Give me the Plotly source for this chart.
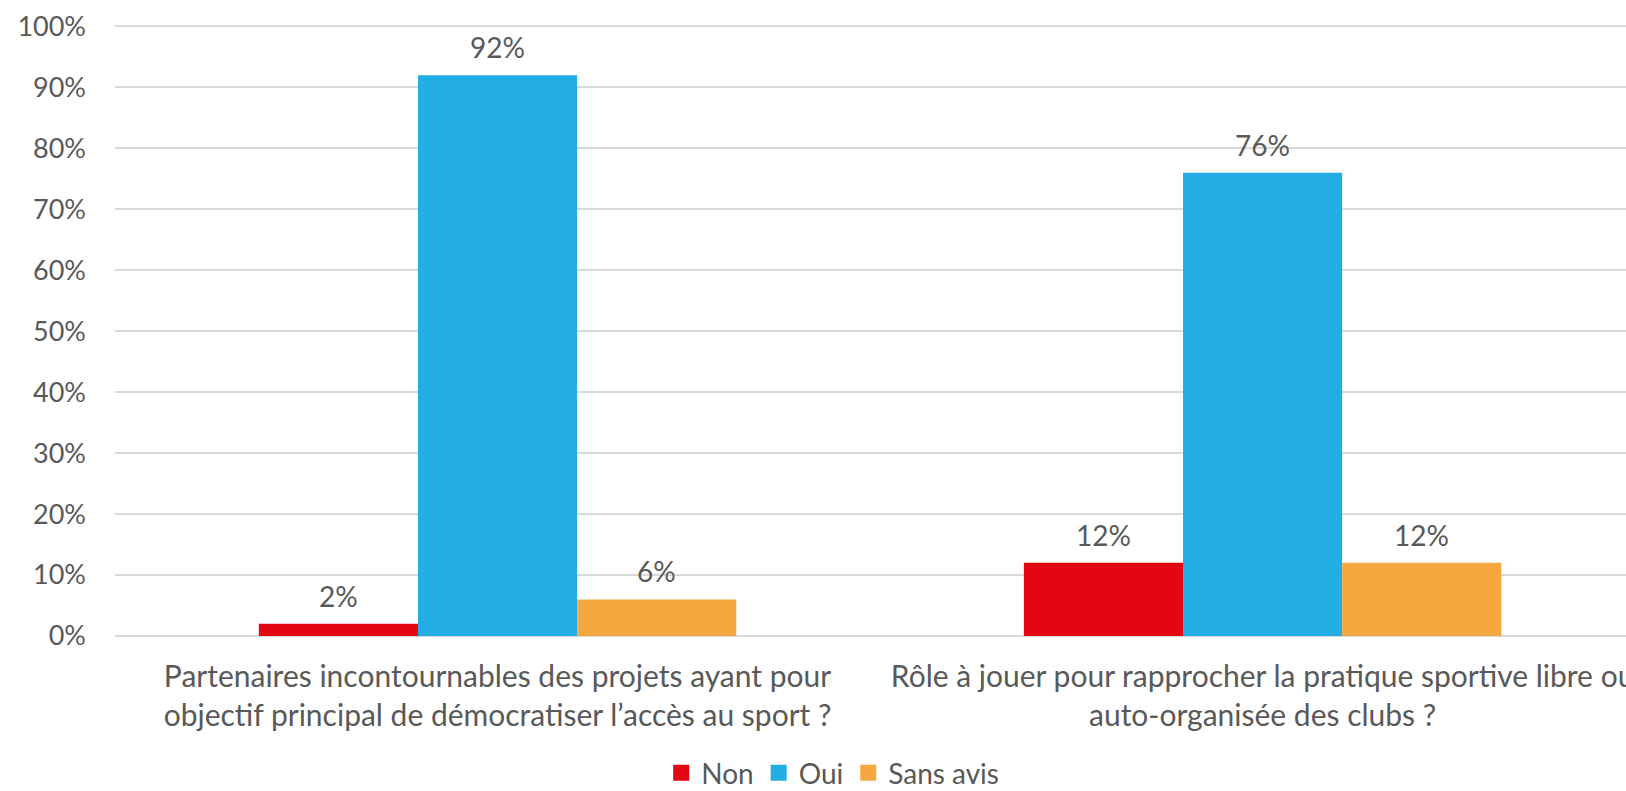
import plotly.graph_objects as go

categories = [
    "Partenaires incontournables des projets ayant pour<br>objectif principal de démocratiser l’accès au sport ?",
    "Rôle à jouer pour rapprocher la pratique sportive libre ou<br>auto-organisée des clubs ?",
]
series_names = ["Non", "Oui", "Sans avis"]
non = [0.02, 0.12]
oui = [0.92, 0.76]
sans_avis = [0.06, 0.12]
colors = ["#E30613", "#22AEE4", "#F6A840"]

tick_vals = [0, 0.1, 0.2, 0.3, 0.4, 0.5, 0.6, 0.7, 0.8, 0.9, 1.0]

font_family = "Lato, 'Open Sans', sans-serif"
grey = "#595959"
bargap = 0.376
cat_px = 765

fig = go.Figure()
annotations = []
for i, (name, vals, col) in enumerate(zip(series_names, [non, oui, sans_avis], colors)):
    fig.add_trace(go.Bar(x=[0, 1], y=vals, name=name, marker_color=col,
                         marker_line_width=0, showlegend=False))
    # legend entry with a bigger square
    fig.add_trace(go.Scatter(x=[None], y=[None], mode="markers", name=name,
                             marker=dict(symbol="square", size=18, color=col)))
    shift = (i - 1) * cat_px * (1 - bargap) / 3
    for j, v in enumerate(vals):
        annotations.append(dict(x=j, y=v, text=f"{v:.0%}", showarrow=False, xshift=shift,
                                yshift=28, font=dict(size=28, color=grey)))

fig.update_layout(
    width=1626, height=791,
    margin=dict(l=115, r=0, t=24, b=155, autoexpand=False),
    barmode="group", bargap=bargap, bargroupgap=0,
    plot_bgcolor="white", paper_bgcolor="white",
    font=dict(family=font_family, size=28, color=grey),
    annotations=annotations,
    legend=dict(orientation="h", x=0.475, xanchor="center", y=-0.224, yanchor="middle",
                font=dict(size=28, color=grey)),
    xaxis=dict(tickvals=[0, 1], ticktext=categories, range=[-0.5, 1.475],
               showgrid=False, zeroline=False, showline=False, ticks="",
               tickfont=dict(size=30, color=grey), ticklabelstandoff=20,
               ticklabeloverflow="allow"),
    yaxis=dict(range=[0, 1.004], tickvals=tick_vals, tickformat=".0%",
               showgrid=True, gridcolor="#D9D9D9", gridwidth=2,
               zeroline=True, zerolinecolor="#D9D9D9", zerolinewidth=2,
               ticks="", tickfont=dict(size=27, color=grey), ticklabelstandoff=28),
)

fig.write_html("out.html", config={"displayModeBar": False},
               post_script="document.body.style.margin='0';")
